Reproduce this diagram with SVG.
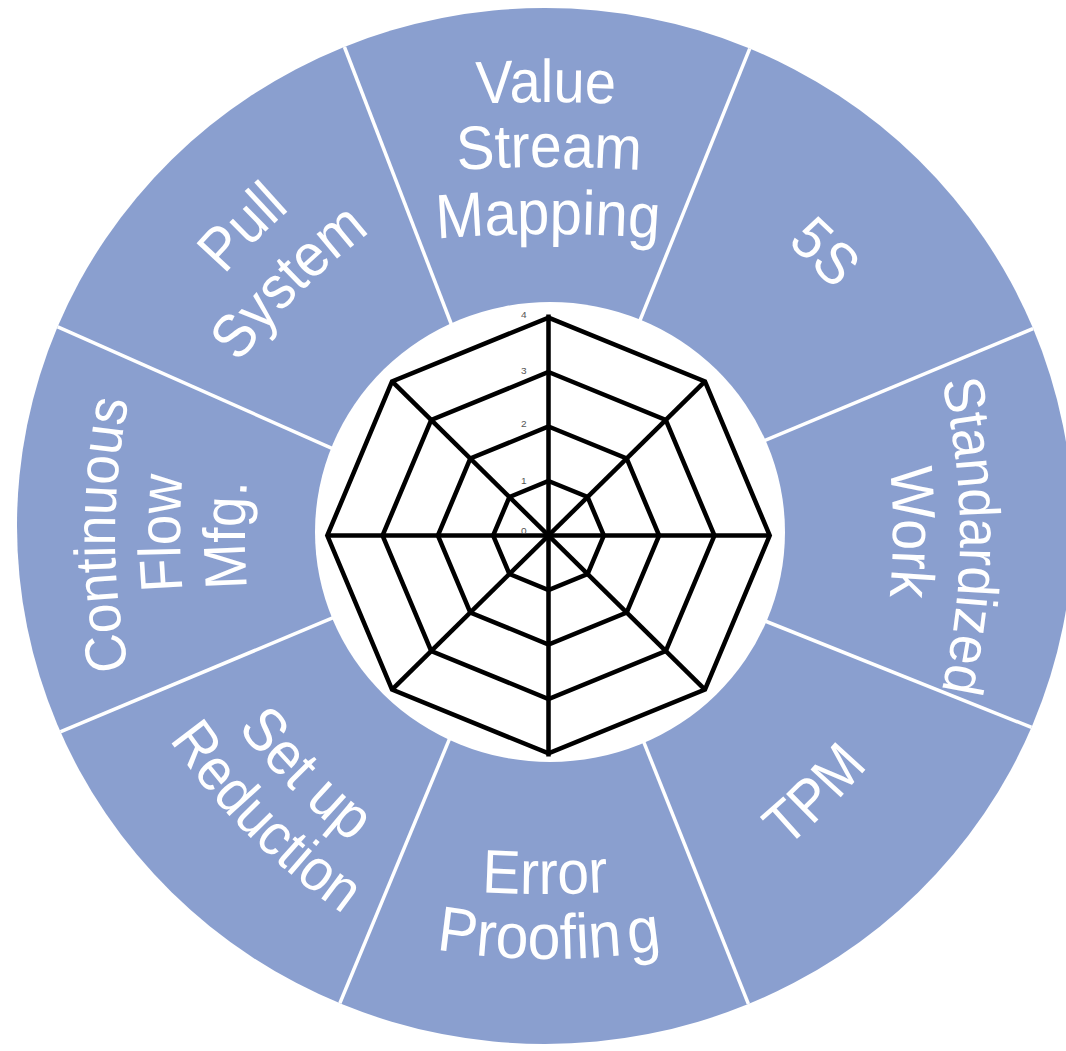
<svg xmlns="http://www.w3.org/2000/svg" width="1066" height="1051" viewBox="0 0 1066 1051">
<style>
.sector{fill:#8a9fcf}
.divider{stroke:#fff;stroke-width:3.5;fill:none}
.lbl{fill:#fff;font-family:"Liberation Sans",Arial,sans-serif;text-anchor:middle}
.web{fill:none;stroke:#000;stroke-width:4.5;stroke-linejoin:miter}
.tick{fill:#555;font-family:"Liberation Sans",Arial,sans-serif;font-size:10px;text-anchor:middle}
</style>
<defs>
<clipPath id="ring"><ellipse cx="545" cy="526" rx="528" ry="518"/></clipPath>
<path id="frown" d="M-300,64.1 Q0,-64.1 300,64.1"/>
<path id="flat" d="M-300,32 Q0,-32 300,32"/>
<path id="smile" d="M-300,-64.1 Q0,64.1 300,-64.1"/>
<path id="smileflat" d="M-300,-40 Q0,40 300,-40"/>
<path id="smile2" d="M-296,-3.9 Q4,124.3 304,-3.9"/>
</defs>
<rect width="1066" height="1051" fill="#fff"/>

<g id="sector-vsm">
<path class="sector" clip-path="url(#ring)" d="M548,530 L447,313 L195,-341 L905,-336 L643,313 Z"/>
<text class="lbl" font-size="56" transform="translate(546,102) scale(1,1.08)"><textPath href="#flat" startOffset="50%">Value</textPath></text>
<text class="lbl" font-size="57" transform="translate(549,167) scale(1,1.08)"><textPath href="#flat" startOffset="50%">Stream</textPath></text>
<text class="lbl" font-size="58" transform="translate(548,234) scale(1,1.08)"><textPath href="#flat" startOffset="50%">Mapping</textPath></text>
</g>
<g id="sector-5s">
<path class="sector" clip-path="url(#ring)" d="M548,530 L643,313 L905,-336 L1412,170 L766,440 Z"/>
<text class="lbl" font-size="55" transform="translate(811,266) rotate(45) scale(1,1.08)"><textPath href="#frown" startOffset="50%">5S</textPath></text>
</g>
<g id="sector-standardized-work">
<path class="sector" clip-path="url(#ring)" d="M548,530 L766,440 L1412,170 L1420,883 L770,623 Z"/>
<text class="lbl" font-size="53" transform="translate(960,536) rotate(90) scale(1,1.08)"><textPath href="#frown" startOffset="50%">Standardized</textPath></text>
<text class="lbl" font-size="56" transform="translate(893,532) rotate(90) scale(1,1.08)"><textPath href="#frown" startOffset="50%">Work</textPath></text>
</g>
<g id="sector-tpm">
<path class="sector" clip-path="url(#ring)" d="M548,530 L770,623 L1420,883 L905,1395 L645,745 Z"/>
<text class="lbl" font-size="55" transform="translate(829,809) rotate(-45) scale(1,1.08)"><textPath href="#smile" startOffset="50%">TPM</textPath></text>
</g>
<g id="sector-error-proofing">
<path class="sector" clip-path="url(#ring)" d="M548,530 L645,745 L905,1395 L179,1391 L447,745 Z"/>
<text class="lbl" font-size="57" transform="translate(545,894) scale(1,1.08)"><textPath href="#smileflat" startOffset="50%">Error</textPath><textPath href="#smile2" startOffset="50%" font-size="59">Proofin<tspan dx="7">g</tspan></textPath></text>
</g>
<g id="sector-setup-reduction">
<path class="sector" clip-path="url(#ring)" d="M548,530 L447,745 L179,1391 L-323,892 L323,622 Z"/>
<text class="lbl" font-size="56" transform="translate(291,789) rotate(45) scale(1,1.08)"><textPath href="#smile" startOffset="50%">Set up</textPath></text>
<text class="lbl" font-size="55" transform="translate(248,835) rotate(45) scale(1,1.08)"><textPath href="#smile" startOffset="50%">Reduction</textPath></text>
</g>
<g id="sector-continuous-flow">
<path class="sector" clip-path="url(#ring)" d="M548,530 L323,622 L-323,892 L-320,160 L320,443 Z"/>
<text class="lbl" font-size="53.5" transform="translate(115,535) rotate(-90) scale(1,1.08)"><textPath href="#frown" startOffset="50%">Continuous</textPath></text>
<text class="lbl" font-size="55" transform="translate(180,533) rotate(-90) scale(1,1.08)"><textPath href="#frown" startOffset="50%">Flow</textPath></text>
<text class="lbl" font-size="55" transform="translate(245,535) rotate(-90) scale(1,1.08)"><textPath href="#frown" startOffset="50%">Mfg.</textPath></text>
</g>
<g id="sector-pull-system">
<path class="sector" clip-path="url(#ring)" d="M548,530 L320,443 L-320,160 L195,-341 L447,313 Z"/>
<text class="lbl" font-size="56" transform="translate(256,241) rotate(-45) scale(1,1.08)"><textPath href="#frown" startOffset="50%">Pull</textPath></text>
<text class="lbl" font-size="56" transform="translate(300,293) rotate(-45) scale(1,1.08)"><textPath href="#frown" startOffset="50%">System</textPath></text>
</g>

<g id="dividers" class="divider" clip-path="url(#ring)">
<line x1="452.4" y1="327" x2="335.4" y2="23.5"/>
<line x1="637.4" y1="326.9" x2="759" y2="25.6"/>
<line x1="752.2" y1="445.8" x2="1052.1" y2="320.7"/>
<line x1="756.1" y1="617.4" x2="1058" y2="738"/>
<line x1="639.4" y1="731.1" x2="760" y2="1033"/>
<line x1="452.7" y1="731.2" x2="328.3" y2="1031.1"/>
<line x1="336.8" y1="616.2" x2="36.9" y2="741.7"/>
<line x1="333.7" y1="449.1" x2="36.3" y2="317.4"/>
</g>

<ellipse id="hub" cx="550" cy="532" rx="235" ry="230" fill="#fff"/>

<g id="radar" transform="translate(548.5,535.5) scale(1.01,0.995)">
<polygon class="web" points="0,-219 154.9,-154.9 219,0 154.9,154.9 0,219 -154.9,154.9 -219,0 -154.9,-154.9"/>
<polygon class="web" points="0,-164.3 116.1,-116.1 164.3,0 116.1,116.1 0,164.3 -116.1,116.1 -164.3,0 -116.1,-116.1"/>
<polygon class="web" points="0,-109.5 77.4,-77.4 109.5,0 77.4,77.4 0,109.5 -77.4,77.4 -109.5,0 -77.4,-77.4"/>
<polygon class="web" points="0,-54.8 38.7,-38.7 54.8,0 38.7,38.7 0,54.8 -38.7,38.7 -54.8,0 -38.7,-38.7"/>
<line class="web" x1="0" y1="-222" x2="0" y2="222"/>
<line class="web" x1="-219" y1="0" x2="219" y2="0"/>
<line class="web" x1="-154.9" y1="-154.9" x2="154.9" y2="154.9"/>
<line class="web" x1="154.9" y1="-154.9" x2="-154.9" y2="154.9"/>
<text class="tick" x="-24.5" y="-219">4</text>
<text class="tick" x="-24.5" y="-162">3</text>
<text class="tick" x="-24.5" y="-109">2</text>
<text class="tick" x="-24.5" y="-52">1</text>
<text class="tick" x="-24.5" y="-2">0</text>
</g>
</svg>
